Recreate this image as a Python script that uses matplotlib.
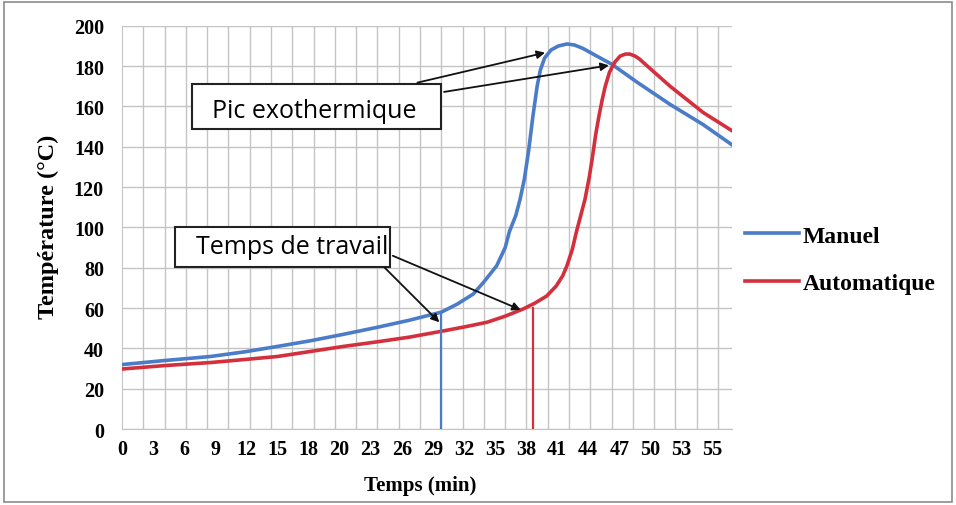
import numpy as np
import matplotlib
matplotlib.use('Agg')
import matplotlib.pyplot as plt
from matplotlib.patches import Rectangle
from matplotlib.ticker import MultipleLocator

# temperature curves (time in min, T in degC)
t_manuel = [0, 4, 8.3, 11.5, 14.6, 17.7, 20.8, 24, 27, 28.5, 30, 31.5, 33, 34, 35.2, 36,
            36.4, 37, 37.4, 37.8, 38.2, 38.6, 39.0, 39.3, 39.7, 40.3, 41, 41.8, 42.5,
            43.3, 44.6, 46, 48.4, 51.5, 54.6, 57.3]
T_manuel = [32, 34, 36, 38.3, 41, 43.8, 47, 50.5, 54, 56, 58, 62, 67, 73, 81, 90,
            98, 106, 114, 124, 138, 155, 170, 178, 184, 188, 190, 191, 190.5,
            188.8, 185, 181, 172, 161, 151, 141]

t_auto = [0, 4, 8.3, 11.5, 14.6, 17.7, 20.8, 24, 27, 30.1, 32.2, 34.3, 36, 37.7, 38.8,
          39.9, 40.8, 41.4, 41.8, 42.3, 42.7, 43.1, 43.5, 43.9, 44.2, 44.5, 44.8, 45.1,
          45.4, 45.8, 46.3, 46.8, 47.3, 47.7, 48.2, 48.6, 50, 51.5, 54.6, 57.3]
T_auto = [29.8, 31.5, 33, 34.5, 36, 38.5, 41, 43.3, 45.6, 48.6, 50.7, 53, 56, 59.6, 62.5,
          66, 71, 76, 81, 89, 98, 106, 114, 125, 135, 146, 155, 163,
          170, 177, 182, 185, 186, 186, 185, 183.6, 177, 170, 157, 148]

# working time markers
t_travail = [30.0, 38.6]
T_travail = [58, 60]

x_labels = ['0', '3', '6', '9', '12', '15', '18', '20', '23', '26', '29', '32', '35',
            '38', '41', '44', '47', '50', '53', '55']
x_step = 2.92

blue = '#4a7cc9'
red = '#d42f3d'
serif = 'Liberation Serif'

fig = plt.figure(figsize=(9.56, 5.06), dpi=100)
ax = fig.add_axes([0.1276, 0.150, 0.638, 0.797])

ax.plot(t_manuel, T_manuel, color=blue, lw=2.6, label='Manuel', zorder=3)
ax.plot(t_auto, T_auto, color=red, lw=2.6, label='Automatique', zorder=3)
ax.plot([t_travail[0], t_travail[0]], [0, T_travail[0]], color=blue, lw=1.6, zorder=3)
ax.plot([t_travail[1], t_travail[1]], [0, T_travail[1]], color=red, lw=1.6, zorder=3)

ax.set_xlim(0, 57.3)
ax.set_ylim(0, 200)
ax.set_xticks(np.arange(len(x_labels)) * x_step)
ax.set_xticklabels(x_labels)
ax.set_yticks(np.arange(0, 201, 20))
ax.xaxis.set_minor_locator(MultipleLocator(2))
ax.grid(False)
ax.grid(which='minor', axis='x', color='#c4c4c4', lw=1.0)
ax.grid(which='major', axis='y', color='#c4c4c4', lw=1.0)
ax.tick_params(which='both', length=0)
for lab in ax.get_xticklabels() + ax.get_yticklabels():
    lab.set_fontfamily(serif)
    lab.set_fontweight('bold')
    lab.set_fontsize(14.5)
ax.tick_params(axis='y', pad=13)
ax.tick_params(axis='x', pad=7)
for s in ax.spines.values():
    s.set_color('#c4c4c4')
ax.spines['top'].set_visible(False)
ax.spines['right'].set_visible(False)

ax.set_xlabel('Temps (min)', fontfamily=serif, fontweight='bold', fontsize=15, va='top')
ax.set_ylabel('Température (°C)', fontfamily=serif, fontweight='bold', fontsize=17.5)
ax.xaxis.set_label_coords(0.489, -0.115)
ax.yaxis.set_label_coords(-0.103, 0.505)

# annotation boxes
ax.add_patch(Rectangle((6.6, 149), 23.4, 22, fill=True, facecolor='white',
                       edgecolor='#222222', lw=1.5, zorder=4))
ax.text(18.1, 157.8, 'Pic exothermique', fontfamily='Open Sans', fontsize=18,
        ha='center', va='center', zorder=5)
ax.add_patch(Rectangle((5.0, 80.5), 20.2, 19.5, fill=True, facecolor='white',
                       edgecolor='#222222', lw=1.5, zorder=4))
ax.text(16.0, 90.8, 'Temps de travail', fontfamily='Open Sans', fontsize=18,
        ha='center', va='center', zorder=5)

arw = dict(arrowstyle='-|>', color='#111111', lw=1.3, mutation_scale=12)
ax.annotate('', xy=(40.0, 187), xytext=(27.5, 171.5), arrowprops=arw, zorder=6)
ax.annotate('', xy=(46.0, 180.6), xytext=(30.0, 167), arrowprops=arw, zorder=6)
ax.annotate('', xy=(30.0, 52), xytext=(24.5, 81), arrowprops=arw, zorder=6)
ax.annotate('', xy=(37.7, 58.6), xytext=(25.2, 86.5), arrowprops=arw, zorder=6)

leg = fig.legend(loc='upper left', bbox_to_anchor=(0.779, 0.553), frameon=False,
                 borderpad=0, borderaxespad=0,
                 handlelength=2.3, handletextpad=0.15, labelspacing=1.1,
                 prop={'family': serif, 'weight': 'bold', 'size': 17})
for h in leg.get_lines():
    h.set_linewidth(2.6)

fig.patches.append(Rectangle((0.004, 0.006), 0.992, 0.988, transform=fig.transFigure,
                             fill=False, edgecolor='#8c8c8c', lw=1.2))

plt.savefig('out.png', dpi=100)
